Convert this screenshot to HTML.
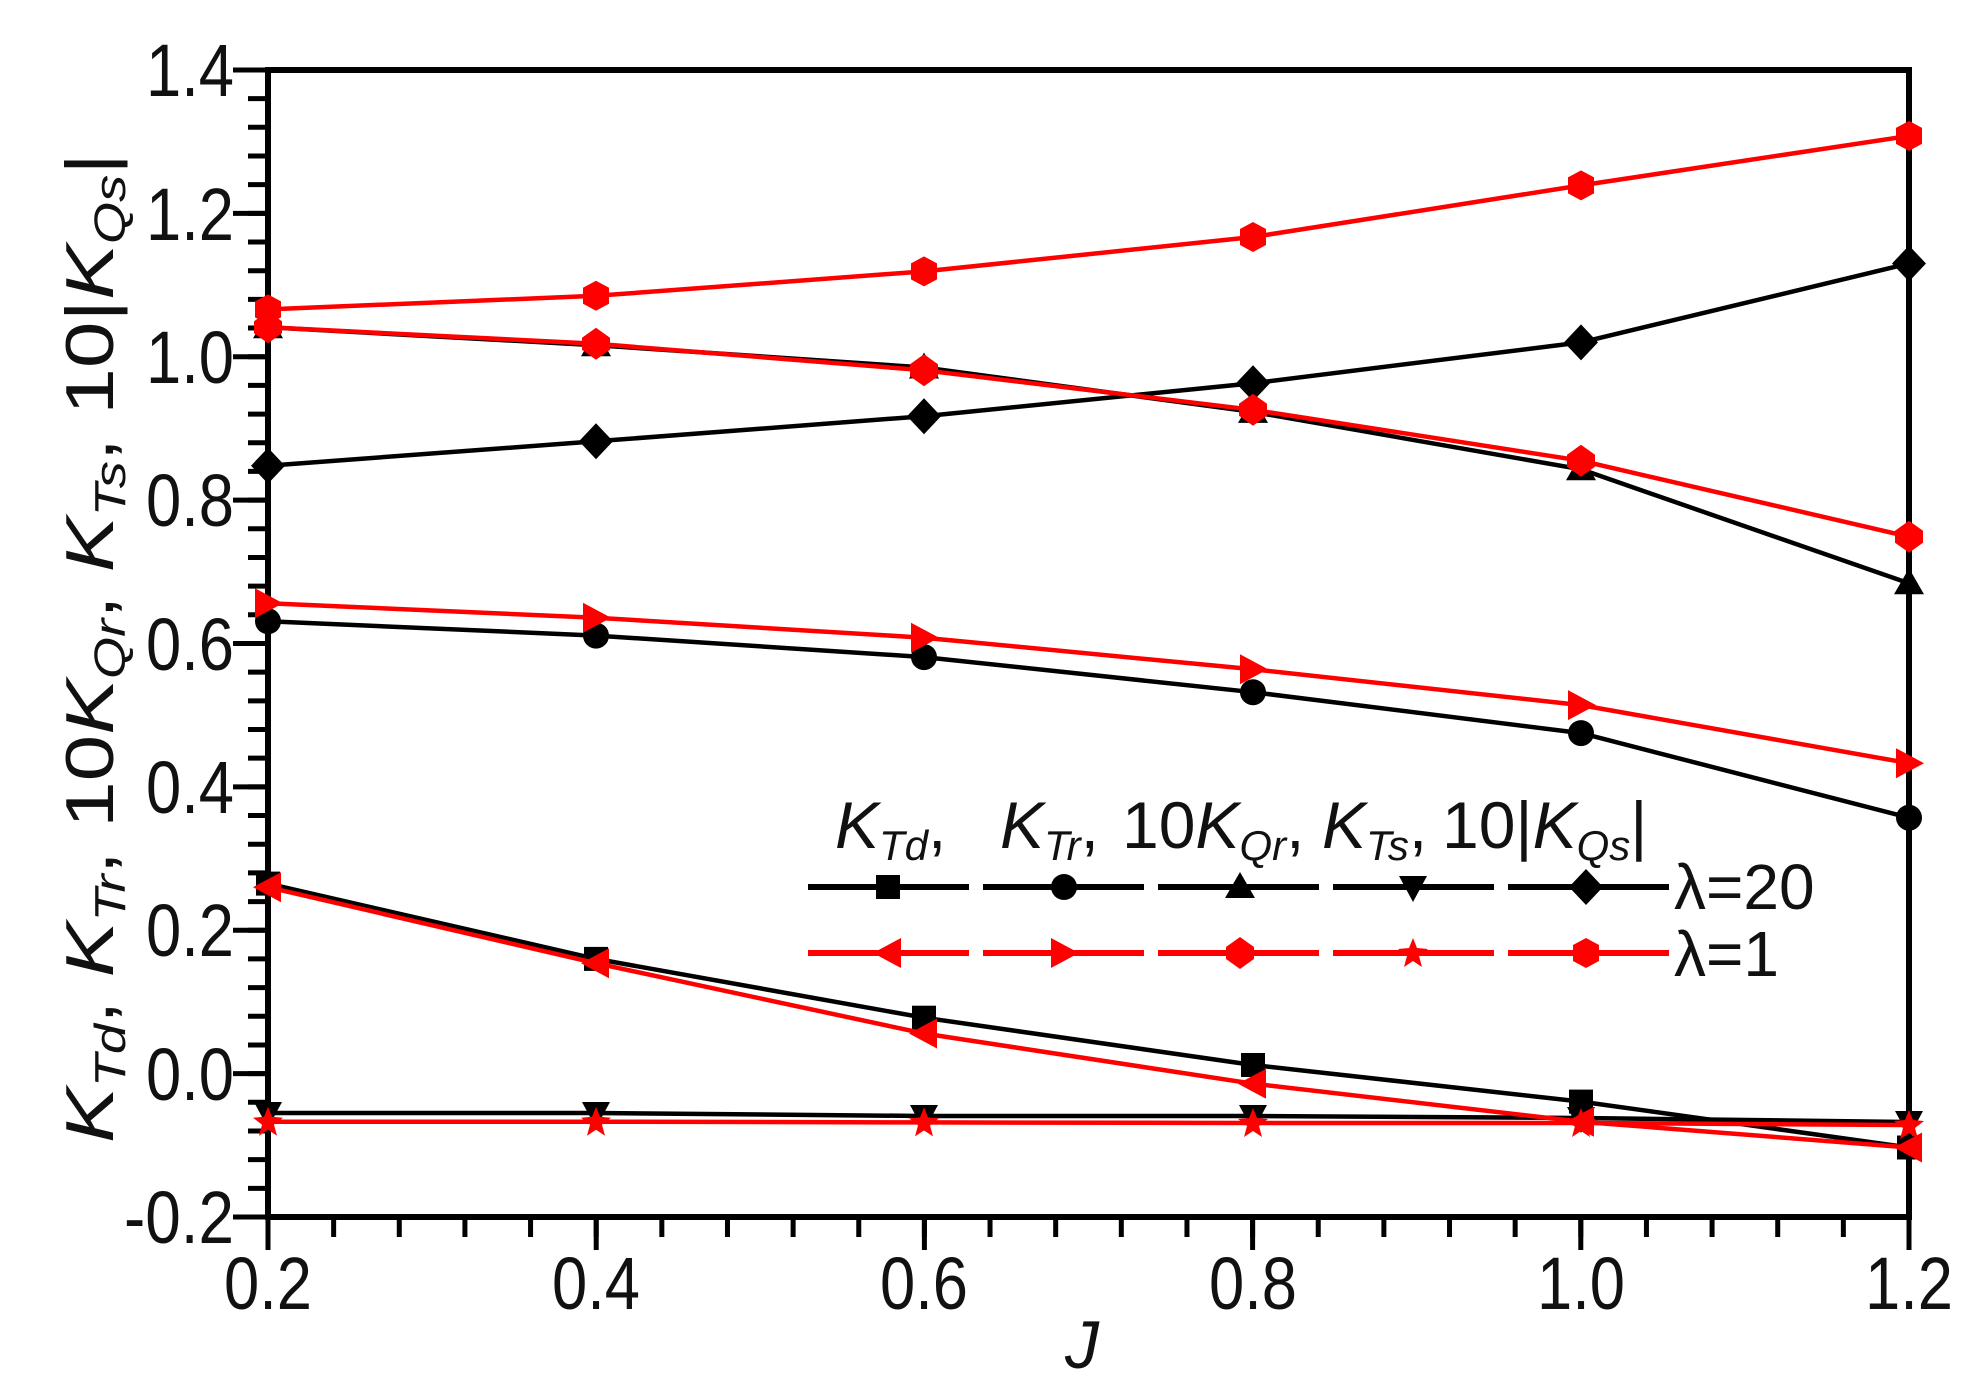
<!DOCTYPE html>
<html><head><meta charset="utf-8"><style>
html,body{margin:0;padding:0;background:#fff;}
svg{display:block;}
text{font-family:"Liberation Sans",sans-serif;fill:#111;}
</style></head><body>
<svg width="1983" height="1389" viewBox="0 0 1983 1389" xmlns="http://www.w3.org/2000/svg">
<defs>
<marker id="sq" markerUnits="userSpaceOnUse" markerWidth="30" markerHeight="30" refX="15" refY="15" overflow="visible"><rect x="3" y="3" width="24" height="24" fill="#000"/></marker>
<marker id="ci" markerUnits="userSpaceOnUse" markerWidth="30" markerHeight="30" refX="15" refY="15" overflow="visible"><circle cx="15" cy="15" r="13" fill="#000"/></marker>
<marker id="tu" markerUnits="userSpaceOnUse" markerWidth="30" markerHeight="30" refX="15" refY="15" overflow="visible"><polygon points="15,0 30,26 0,26" fill="#000"/></marker>
<marker id="td" markerUnits="userSpaceOnUse" markerWidth="30" markerHeight="30" refX="15" refY="15" overflow="visible"><polygon points="1,4 29,4 15,30" fill="#000"/></marker>
<marker id="di" markerUnits="userSpaceOnUse" markerWidth="30" markerHeight="30" refX="15" refY="15" overflow="visible"><polygon points="15,-3 32,15 15,33 -2,15" fill="#000"/></marker>
<marker id="tl" markerUnits="userSpaceOnUse" markerWidth="30" markerHeight="30" refX="15" refY="15" overflow="visible"><polygon points="0,15 28,0 28,30" fill="#f00"/></marker>
<marker id="tr" markerUnits="userSpaceOnUse" markerWidth="30" markerHeight="30" refX="15" refY="15" overflow="visible"><polygon points="30,15 2,0 2,30" fill="#f00"/></marker>
<marker id="rc" markerUnits="userSpaceOnUse" markerWidth="30" markerHeight="30" refX="15" refY="15" overflow="visible"><polygon points="15,-1 29,9 29,21 15,31 1,21 1,9" fill="#f00"/></marker>
<marker id="st" markerUnits="userSpaceOnUse" markerWidth="30" markerHeight="30" refX="15" refY="15" overflow="visible"><polygon points="15,0 19,10 30,11 21,18 24,29 15,23 6,29 9,18 0,11 11,10" fill="#f00"/></marker>
<marker id="hx" markerUnits="userSpaceOnUse" markerWidth="30" markerHeight="30" refX="15" refY="15" overflow="visible"><polygon points="15,0 28,7 28,23 15,30 2,23 2,7" fill="#f00"/><rect x="2" y="7" width="26" height="16" fill="#f00"/></marker>
</defs>

<rect x="268" y="70" width="1641" height="1147" fill="none" stroke="#000" stroke-width="6"/>
<line x1="258" y1="1219.5" x2="258" y2="66" stroke="#000" stroke-width="20" stroke-dasharray="5 23.676"/>
<line x1="250.5" y1="1219.5" x2="250.5" y2="66" stroke="#000" stroke-width="35" stroke-dasharray="5 138.38"/>
<line x1="265.5" y1="1227" x2="1913" y2="1227" stroke="#000" stroke-width="20" stroke-dasharray="5 60.64"/>
<line x1="265.5" y1="1233.5" x2="1913" y2="1233.5" stroke="#000" stroke-width="33" stroke-dasharray="5 323.2"/>

<g font-size="74" text-anchor="end">
<text x="234" y="1243" textLength="110" lengthAdjust="spacingAndGlyphs">-0.2</text>
<text x="234" y="1100" textLength="88" lengthAdjust="spacingAndGlyphs">0.0</text>
<text x="234" y="956" textLength="88" lengthAdjust="spacingAndGlyphs">0.2</text>
<text x="234" y="813" textLength="88" lengthAdjust="spacingAndGlyphs">0.4</text>
<text x="234" y="670" textLength="88" lengthAdjust="spacingAndGlyphs">0.6</text>
<text x="234" y="526" textLength="88" lengthAdjust="spacingAndGlyphs">0.8</text>
<text x="234" y="383" textLength="88" lengthAdjust="spacingAndGlyphs">1.0</text>
<text x="234" y="240" textLength="88" lengthAdjust="spacingAndGlyphs">1.2</text>
<text x="234" y="96" textLength="88" lengthAdjust="spacingAndGlyphs">1.4</text>
</g>
<g font-size="74" text-anchor="middle">
<text x="268" y="1309" textLength="88" lengthAdjust="spacingAndGlyphs">0.2</text>
<text x="596" y="1309" textLength="88" lengthAdjust="spacingAndGlyphs">0.4</text>
<text x="924" y="1309" textLength="88" lengthAdjust="spacingAndGlyphs">0.6</text>
<text x="1253" y="1309" textLength="88" lengthAdjust="spacingAndGlyphs">0.8</text>
<text x="1581" y="1309" textLength="88" lengthAdjust="spacingAndGlyphs">1.0</text>
<text x="1909" y="1309" textLength="88" lengthAdjust="spacingAndGlyphs">1.2</text>
</g>
<text x="1082" y="1368" font-size="68" font-style="italic" text-anchor="middle">J</text>

<text transform="translate(113,648) rotate(-90)" font-size="68" text-anchor="middle" textLength="990" lengthAdjust="spacingAndGlyphs"><tspan font-style="italic">K</tspan><tspan font-style="italic" font-size="44" dy="12">Td</tspan><tspan dy="-12">, </tspan><tspan font-style="italic">K</tspan><tspan font-style="italic" font-size="44" dy="12">Tr</tspan><tspan dy="-12">, 10</tspan><tspan font-style="italic">K</tspan><tspan font-style="italic" font-size="44" dy="12">Qr</tspan><tspan dy="-12">, </tspan><tspan font-style="italic">K</tspan><tspan font-style="italic" font-size="44" dy="12">Ts</tspan><tspan dy="-12">, 10|</tspan><tspan font-style="italic">K</tspan><tspan font-style="italic" font-size="44" dy="12">Qs</tspan><tspan dy="-12">|</tspan></text>

<g fill="none" stroke-width="4.5" stroke-linejoin="round">
<polyline stroke="#000" marker-start="url(#td)" marker-mid="url(#td)" marker-end="url(#td)" points="268,1113 596,1113 924,1116 1253,1116 1581,1118 1909,1122"/>
<polyline stroke="#000" marker-start="url(#sq)" marker-mid="url(#sq)" marker-end="url(#sq)" points="268,883.6 596,958.9 924,1017.7 1253,1065 1581,1101.6 1909,1147.5"/>
<polyline stroke="#000" marker-start="url(#ci)" marker-mid="url(#ci)" marker-end="url(#ci)" points="268,621.3 596,635.6 924,657.1 1253,692.2 1581,733.1 1909,817.7"/>
<polyline stroke="#000" marker-start="url(#tu)" marker-mid="url(#tu)" marker-end="url(#tu)" points="268,327.3 596,345.2 924,367.5 1253,411.9 1581,469.3 1909,583.3"/>
<polyline stroke="#000" marker-start="url(#di)" marker-mid="url(#di)" marker-end="url(#di)" points="268,465.7 596,441.3 924,416.2 1253,383.2 1581,342.4 1909,263.5"/>
<polyline stroke="#f00" marker-start="url(#st)" marker-mid="url(#st)" marker-end="url(#st)" points="268,1121.7 596,1121.7 924,1122.4 1253,1123 1581,1123 1909,1125"/>
<polyline stroke="#f00" marker-start="url(#tl)" marker-mid="url(#tl)" marker-end="url(#tl)" points="268,887.2 596,963.2 924,1033.5 1253,1083.7 1581,1121.7 1909,1147.5"/>
<polyline stroke="#f00" marker-start="url(#tr)" marker-mid="url(#tr)" marker-end="url(#tr)" points="268,603.3 596,617.7 924,637.7 1253,669.3 1581,705.1 1909,763.2"/>
<polyline stroke="#f00" marker-start="url(#rc)" marker-mid="url(#rc)" marker-end="url(#rc)" points="268,327.3 596,343.8 924,370.3 1253,409.8 1581,460.7 1909,536.7"/>
<polyline stroke="#f00" marker-start="url(#hx)" marker-mid="url(#hx)" marker-end="url(#hx)" points="268,309.4 596,295.8 924,271.4 1253,237 1581,185.4 1909,135.9"/>
</g>

<g font-size="66">
<text x="835" y="848"><tspan font-style="italic">K</tspan><tspan font-style="italic" font-size="42" dy="12">Td</tspan><tspan dy="-12">,</tspan></text>
<text x="1000" y="848"><tspan font-style="italic">K</tspan><tspan font-style="italic" font-size="42" dy="12">Tr</tspan><tspan dy="-12">,</tspan></text>
<text x="1122" y="848">10<tspan font-style="italic">K</tspan><tspan font-style="italic" font-size="42" dy="12">Qr</tspan><tspan dy="-12">,</tspan></text>
<text x="1322" y="848"><tspan font-style="italic">K</tspan><tspan font-style="italic" font-size="42" dy="12">Ts</tspan><tspan dy="-12">,</tspan></text>
<text x="1442" y="848">10|<tspan font-style="italic">K</tspan><tspan font-style="italic" font-size="42" dy="12">Qs</tspan><tspan dy="-12">|</tspan></text>
</g>
<g stroke-width="6" fill="none">
<polyline stroke="#000" stroke-dasharray="161 14" points="808,887 1671,887"/>
<polyline stroke="#f00" stroke-dasharray="161 14" points="808,953 1671,953"/>
</g>
<g>
<rect x="876" y="875" width="24" height="24" fill="#000"/>
<circle cx="1064" cy="887" r="13" fill="#000"/>
<polygon points="1240,872 1255,898 1225,898" fill="#000"/>
<polygon points="1399,876 1427,876 1413,902" fill="#000"/>
<polygon points="1586,869 1603,887 1586,905 1569,887" fill="#000"/>
<polygon points="873,953 901,938 901,968" fill="#f00"/>
<polygon points="1079,953 1051,938 1051,968" fill="#f00"/>
<polygon points="1240,937 1254,947 1254,959 1240,969 1226,959 1226,947" fill="#f00"/>
<polygon points="1413,938 1417,948 1428,949 1419,956 1422,967 1413,961 1404,967 1407,956 1398,949 1409,948" fill="#f00"/>
<polygon points="1586,938 1599,945 1599,961 1586,968 1573,961 1573,945" fill="#f00"/>
</g>
<text x="1674" y="909" font-size="64">λ=20</text>
<text x="1674" y="976" font-size="64">λ=1</text>
</svg>
</body></html>
